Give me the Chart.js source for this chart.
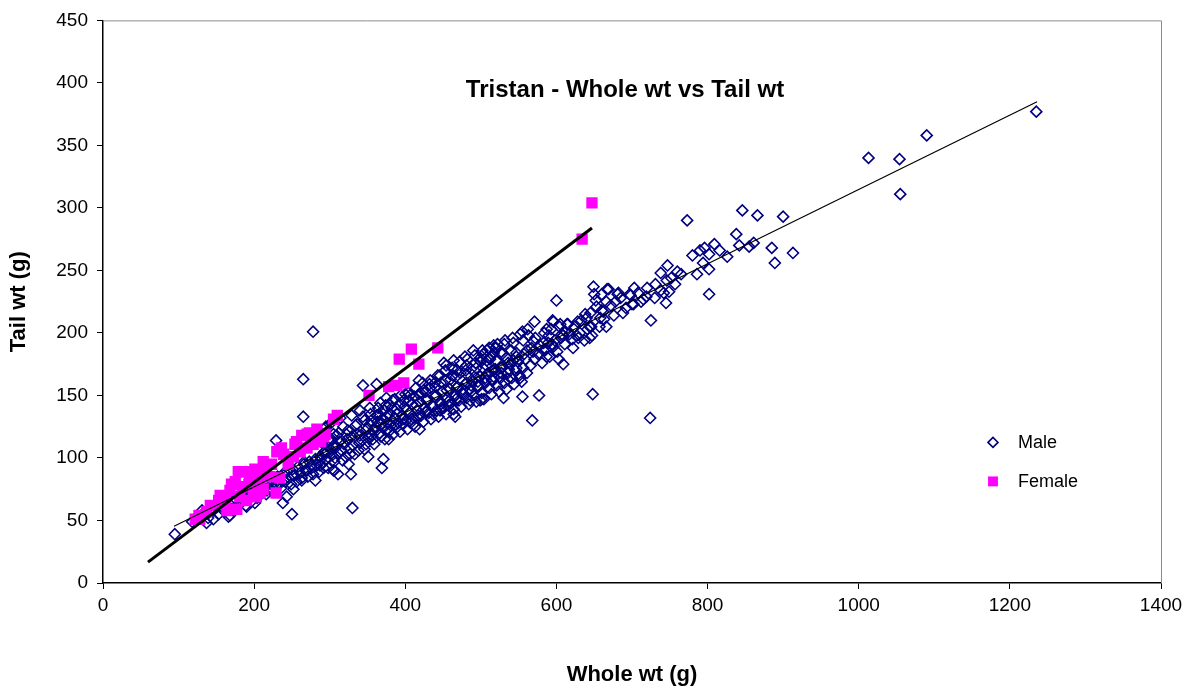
<!DOCTYPE html>
<html>
<head>
<meta charset="utf-8">
<title>Tristan - Whole wt vs Tail wt</title>
<script src="https://cdn.jsdelivr.net/npm/chart.js@4.4.1/dist/chart.umd.min.js"></script>
<style>
  html, body { margin: 0; padding: 0; background: #fff; }
  #wrap { width: 1194px; height: 695px; }
</style>
</head>
<body>
<div id="wrap"><canvas id="myChart" width="1194" height="695"></canvas></div>
<script>
// Whole weight (g) vs tail weight (g), one [whole, tail] pair per animal
const malePoints = [
  [1235, 377], [1090, 358], [1054, 339], [1013, 340], [1055, 311],
  [913, 264], [900, 293], [889, 256], [885, 268], [866, 294], [861, 272], [855, 269], [842, 270],
  [846, 298], [838, 279], [826, 261], [816, 266], [809, 271], [802, 263], [802, 251], [802, 231],
  [796, 268], [790, 266], [794, 256], [773, 290], [760, 249], [757, 239], [749, 233], [747, 254],
  [746, 242], [745, 224], [738, 248], [738, 234], [731, 239], [725, 210], [724, 132], [720, 236],
  [719, 229], [703, 236], [702, 223], [700, 223], [698, 230], [697, 231], [688, 216], [682, 232],
  [681, 231], [669, 235], [667, 235], [666, 225], [666, 205], [663, 211], [662, 217], [660, 231],
  [660, 218], [658, 212], [653, 221], [650, 231], [649, 237], [648, 151], [647, 198], [646, 205],
  [644, 196], [644, 205], [640, 212], [637, 194], [629, 196], [628, 209], [627, 198], [622, 188],
  [615, 207], [614, 207], [609, 175], [609, 198], [607, 199], [605, 207], [604, 205], [603, 179],
  [600, 226], [596, 209], [595, 210], [594, 191], [590, 198], [587, 203], [587, 181], [583, 192],
  [583, 186], [577, 150], [571, 209], [570, 193], [569, 185], [568, 130], [563, 198], [561, 186],
  [556, 194], [555, 201], [555, 149], [552, 164], [550, 179], [547, 184], [543, 192], [543, 178],
  [536, 163], [531, 191], [530, 148], [528, 183], [523, 167], [519, 188], [517, 184], [515, 162],
  [512, 179], [508, 186], [503, 172], [501, 147], [499, 180],
  [520, 188], [517, 190], [508, 178], [503, 183], [494, 172], [490, 186], [481, 174], [481, 167],
  [479, 181], [468, 170], [464, 178], [463, 166], [454, 174], [451, 176], [446, 166], [439, 160],
  [432, 159], [424, 154], [418, 162], [418, 151], [406, 150], [400, 151], [386, 147], [375, 148],
  [367, 144], [379, 143], [362, 159], [353, 140], [344, 158], [340, 138], [329, 134], [314, 132],
  [300, 127], [295, 125], [318, 125], [336, 127], [346, 130], [362, 134], [375, 133], [389, 135],
  [402, 138], [415, 142], [428, 146], [441, 150], [455, 154], [468, 156], [481, 160], [494, 164],
  [508, 167], [519, 171], [499, 146], [486, 146], [464, 135], [466, 133], [446, 138], [419, 123],
  [378, 115], [351, 101], [371, 99], [369, 92], [325, 95], [328, 87], [305, 90], [311, 87],
  [296, 105], [290, 112], [309, 118], [322, 119], [340, 118], [353, 119], [287, 101], [287, 94],
  [278, 201], [265, 163], [265, 133], [229, 114], [330, 60], [250, 55], [238, 64], [243, 69],
  [252, 75], [263, 82], [281, 82], [306, 90], [292, 92], [95, 39], [131, 58], [137, 48],
  [146, 51], [166, 53], [168, 54], [190, 61], [201, 64], [217, 74], [230, 77], [223, 79],
  [239, 82], [252, 86], [270, 90], [276, 94], [266, 95], [287, 98], [294, 103], [305, 110],
  [300, 114], [305, 119], [294, 124],
  [118, 49], [124, 53], [133, 56], [139, 52], [146, 58], [151, 61], [153, 55], [159, 63],
  [161, 57], [166, 64], [169, 59], [173, 66], [176, 61], [179, 69], [181, 63], [184, 67],
  [187, 71], [189, 62], [191, 68], [194, 73], [196, 65], [199, 71], [201, 74], [204, 68],
  [206, 77], [208, 71], [211, 76], [214, 79], [216, 71], [219, 81], [221, 75], [224, 73],
  [226, 83], [229, 78], [231, 85], [233, 80], [236, 76], [238, 87], [241, 81], [244, 89],
  [246, 84], [249, 79], [251, 91], [253, 86], [256, 81], [258, 93], [261, 88], [263, 84],
  [266, 97], [268, 90], [271, 85], [273, 97], [276, 92], [278, 87], [281, 99], [283, 94],
  [286, 89], [288, 101], [291, 96], [293, 105], [296, 99], [298, 92], [301, 107], [303, 102],
  [306, 97], [309, 109], [311, 104], [313, 113], [316, 106], [319, 111], [321, 101], [323, 115],
  [326, 108], [329, 117], [331, 110], [333, 103], [336, 119], [339, 112], [341, 121], [343, 114],
  [346, 107], [349, 123], [351, 116], [353, 127], [356, 118], [359, 111], [361, 125], [363, 129],
  [366, 120], [369, 131], [371, 124], [373, 115], [376, 128], [379, 135], [381, 126], [384, 119],
  [386, 132], [389, 139], [391, 128], [393, 121], [396, 134], [399, 141], [401, 130], [403, 123],
  [406, 136], [409, 143], [411, 132], [413, 125], [416, 138], [419, 145], [421, 134], [424, 129],
  [426, 140], [429, 147], [431, 136], [434, 131], [436, 142], [439, 149], [441, 138], [444, 133],
  [446, 145], [449, 153], [451, 140], [454, 135], [456, 148], [459, 155], [461, 144], [464, 139],
  [466, 150], [469, 157], [471, 146], [474, 141], [476, 152], [479, 159], [481, 148], [484, 143],
  [486, 155], [489, 161], [491, 150], [494, 145], [496, 158], [499, 165], [501, 152], [504, 147],
  [506, 160], [509, 167], [511, 156], [514, 151], [516, 162], [519, 169], [521, 158], [524, 153],
  [526, 164], [529, 173], [531, 160], [534, 155], [536, 168], [539, 175], [541, 164], [544, 159],
  [546, 170], [549, 177], [551, 166], [554, 161], [556, 172], [559, 179], [561, 168], [566, 174],
  [571, 179], [576, 183], [581, 176], [586, 187], [591, 181], [596, 189], [601, 185], [611, 191],
  [621, 195], [631, 200], [641, 203], [676, 214], [712, 225],
  [355, 130], [365, 135], [372, 138], [382, 140], [392, 143], [398, 146], [405, 146], [412, 149],
  [420, 152], [427, 153], [433, 156], [440, 157], [447, 160], [453, 162], [460, 163], [467, 165],
  [473, 168], [480, 170], [487, 171], [493, 176], [500, 177], [507, 174], [513, 181], [520, 178],
  [527, 185], [534, 180], [540, 186], [358, 122], [368, 127], [377, 123], [387, 127], [397, 131],
  [407, 128], [417, 132], [427, 137], [437, 141], [447, 143], [457, 142], [467, 147], [477, 151],
  [487, 153], [497, 157], [507, 162], [517, 165], [527, 168], [537, 171], [547, 172],
  [302, 115], [307, 100], [312, 120], [317, 98], [324, 122], [327, 103], [334, 126], [338, 106],
  [344, 133], [348, 111], [354, 135], [357, 115], [364, 140], [368, 117], [374, 142], [378, 121],
  [383, 146], [388, 124], [394, 150], [397, 127], [404, 152], [408, 131], [414, 156], [417, 134],
  [423, 160], [428, 137], [433, 162], [437, 135], [443, 166], [448, 140], [453, 170], [457, 145],
  [462, 172], [467, 150], [472, 177], [476, 155], [482, 179], [487, 158], [492, 182], [496, 161],
  [502, 186], [506, 164], [511, 188], [516, 170], [522, 191], [526, 172], [532, 194], [536, 176],
  [542, 196], [547, 181], [552, 199], [557, 183], [562, 203], [567, 188], [572, 196], [578, 190],
  [584, 200], [589, 192], [593, 203], [598, 194], [606, 196], [612, 201], [617, 199], [624, 205],
  [633, 210], [638, 215], [645, 216], [652, 226], [657, 205], [672, 222], [678, 225], [685, 228],
  [692, 220], [708, 232], [715, 227], [730, 228], [742, 232], [752, 244], [765, 247], [780, 262],
  [786, 247]
];

const femalePoints = [
  [122, 51], [127, 54], [128, 51], [137, 57], [142, 62], [153, 66], [155, 70], [155, 63],
  [162, 67], [164, 58], [168, 74], [170, 79], [175, 81], [177, 59], [179, 89], [181, 69],
  [184, 77], [187, 89], [190, 66], [193, 79], [194, 85], [199, 74], [201, 91], [203, 69],
  [207, 90], [208, 81], [208, 72], [212, 97], [212, 75], [216, 93], [221, 85], [223, 95],
  [229, 72], [230, 105], [234, 84], [234, 106], [236, 108], [239, 103], [245, 95], [252, 101],
  [254, 111], [256, 113], [261, 105], [263, 118], [270, 119], [270, 108], [273, 120], [275, 112],
  [278, 111], [283, 116], [283, 123], [288, 113], [292, 117], [294, 119], [305, 131], [310, 134],
  [352, 150], [378, 157], [389, 158], [398, 160], [392, 179], [418, 175], [408, 187], [443, 188],
  [634, 275], [647, 304]
];

// linear trend line end points (whole wt, tail wt)
const maleTrend = [[94, 45.4], [1236, 385]];
const femaleTrend = [[59.5, 16.7], [647, 284]];

const xTicks = [0, 200, 400, 600, 800, 1000, 1200, 1400];
const yTicks = [0, 50, 100, 150, 200, 250, 300, 350, 400, 450];

const toXY = arr => arr.map(p => ({ x: p[0], y: p[1] }));
const FONT = '"Liberation Sans", Arial, Helvetica, sans-serif';
Chart.defaults.font.family = FONT;
Chart.defaults.color = '#000';

// gray frame on top and right of the plot area, as in the spreadsheet chart
const plotFrame = {
  id: 'plotFrame',
  beforeDatasetsDraw(chart) {
    const { ctx, chartArea: a } = chart;
    ctx.save();
    ctx.strokeStyle = '#8c8c8c';
    ctx.lineWidth = 1;
    ctx.beginPath();
    ctx.moveTo(a.left, a.top + 0.5);
    ctx.lineTo(a.right + 0.5, a.top + 0.5);
    ctx.lineTo(a.right + 0.5, a.bottom);
    ctx.stroke();
    ctx.restore();
  }
};

// title inside the plot and the small legend on the right
const overlay = {
  id: 'overlay',
  afterDraw(chart) {
    const { ctx, chartArea: a } = chart;
    ctx.save();
    ctx.fillStyle = '#000';
    ctx.font = 'bold 24px ' + FONT;
    ctx.textAlign = 'center';
    ctx.textBaseline = 'middle';
    ctx.fillText('Tristan - Whole wt vs Tail wt', a.left + 522, a.top + 70);

    const items = [chart.data.datasets[3], chart.data.datasets[2]];
    items.forEach((ds, i) => {
      const x = a.left + 890;
      const y = a.top + 422 + i * 39;
      ctx.fillStyle = ds.backgroundColor;
      ctx.strokeStyle = ds.borderColor;
      ctx.lineWidth = ds.borderWidth;
      Chart.helpers.drawPoint(ctx, {
        pointStyle: ds.pointStyle,
        radius: ds.legendRadius,
        borderWidth: ds.borderWidth,
        rotation: 0
      }, x, y);
      ctx.fillStyle = '#000';
      ctx.font = '18px ' + FONT;
      ctx.textAlign = 'left';
      ctx.fillText(ds.label, x + 25, y + 1);
    });
    ctx.restore();
  }
};

const data = {
  datasets: [
    {
      label: 'Female trend',
      data: toXY(femaleTrend),
      showLine: true,
      borderColor: '#000',
      borderWidth: 3,
      pointRadius: 0,
      order: 0
    },
    {
      label: 'Male trend',
      data: toXY(maleTrend),
      showLine: true,
      borderColor: '#000',
      borderWidth: 1.2,
      pointRadius: 0,
      order: 0
    },
    {
      label: 'Female',
      data: toXY(femalePoints),
      pointStyle: 'rect',
      pointRadius: 8,
      legendRadius: 7,
      backgroundColor: '#ff00ff',
      borderColor: '#ff00ff',
      borderWidth: 0,
      order: 1
    },
    {
      label: 'Male',
      data: toXY(malePoints),
      pointStyle: 'rectRot',
      pointRadius: 5.5,
      legendRadius: 5,
      backgroundColor: 'rgba(0,0,0,0)',
      borderColor: '#000080',
      borderWidth: 1.6,
      order: 2
    }
  ]
};

const config = {
  type: 'scatter',
  data: data,
  options: {
    responsive: false,
    animation: false,
    events: [],
    layout: { padding: { left: 0, right: 33, top: 18, bottom: 0 } },
    plugins: {
      legend: { display: false },
      tooltip: { enabled: false }
    },
    scales: {
      x: {
        type: 'linear',
        min: 0,
        max: 1400,
        afterBuildTicks: s => { s.ticks = xTicks.map(v => ({ value: v })); },
        afterFit: s => { s.height = 112; },
        grid: { drawOnChartArea: false, drawTicks: true, tickLength: 6, color: '#000' },
        border: { color: '#000', width: 1.5 },
        ticks: { font: { size: 19 }, padding: 5, maxRotation: 0, callback: v => String(v) },
        title: { display: true, text: 'Whole wt (g)', font: { size: 22, weight: 'bold' }, padding: { bottom: 7 } }
      },
      y: {
        type: 'linear',
        min: 0,
        max: 450,
        afterBuildTicks: s => { s.ticks = yTicks.map(v => ({ value: v })); },
        afterFit: s => { s.width = 103; },
        grid: { drawOnChartArea: false, drawTicks: true, tickLength: 6, color: '#000' },
        border: { color: '#000', width: 1.5 },
        ticks: { font: { size: 19 }, padding: 9, callback: v => String(v) },
        title: { display: true, text: 'Tail wt (g)', font: { size: 22, weight: 'bold' }, padding: { top: 6 } }
      }
    }
  },
  plugins: [plotFrame, overlay]
};

const ctx = document.getElementById('myChart').getContext('2d');
const myChart = new Chart(ctx, config);
</script>
</body>
</html>
